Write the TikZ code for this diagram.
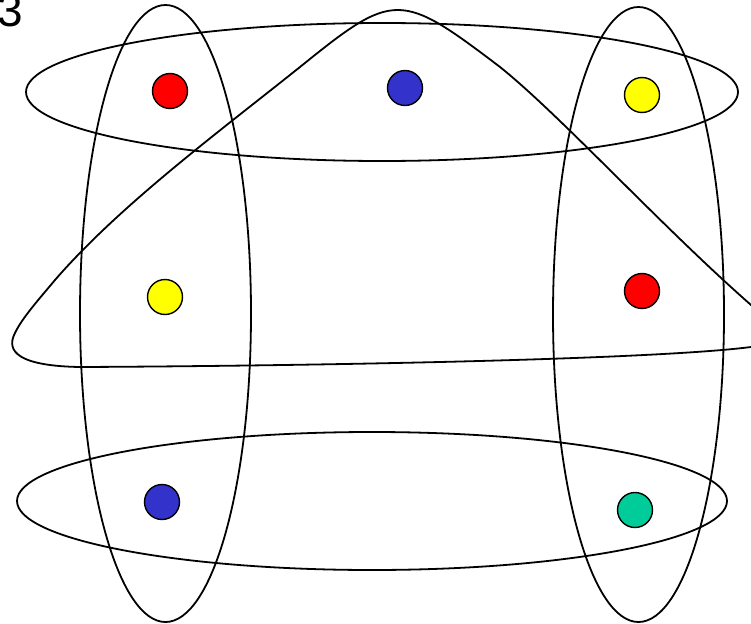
\documentclass[tikz,border=0pt]{standalone}
\usepackage{fontspec}
\setsansfont{Liberation Sans}
\usetikzlibrary{positioning}

\definecolor{dotred}{RGB}{255,0,0}
\definecolor{dotblue}{RGB}{51,51,204}
\definecolor{dotyellow}{RGB}{255,255,0}
\definecolor{dotgreen}{RGB}{0,204,153}

\begin{document}
\begin{tikzpicture}[
x=1pt, y=-1pt,
edge/.style={draw, line width=1.8pt},
vertex/.style={circle, draw, line width=1.4pt, minimum size=35pt, inner sep=0pt},
label/.style={font=\sffamily\fontsize{46}{46}\selectfont, inner sep=0pt}
]
\clip (0,0) rectangle (751,623);

% number
\node (num) [label, anchor=base west] at (-3,27) {3};

% vertices
\node (a1) [vertex, fill=dotred] at (170,91) {};
\node (a2) [vertex, fill=dotblue] at (405,88) {};
\node (a3) [vertex, fill=dotyellow] at (642,95) {};
\node (b1) [vertex, fill=dotyellow] at (165,297) {};
\node (b3) [vertex, fill=dotred] at (642,291) {};
\node (c1) [vertex, fill=dotblue] at (162,502) {};
\node (c3) [vertex, fill=dotgreen] at (635,510) {};

% hyperedges
\draw[edge] (382,92) ellipse [x radius=356, y radius=69];
\draw[edge] (372,501) ellipse [x radius=355, y radius=69];
\draw[edge] (165.5,313.5) ellipse [x radius=85.5, y radius=308.5];
\draw[edge] (638.5,314.5) ellipse [x radius=85.5, y radius=307.5];

% triangle edge
\draw[edge] (55,280) .. controls (120,205) and (220,131) .. (300,67)
  .. controls (394,-9) and (400,-9) .. (500,67)
  .. controls (560,115) and (660,225) .. (751,305)
  .. controls (790,340) and (790,345) .. (751,347)
  .. controls (650,360) and (300,366) .. (80,367)
  .. controls (20,366) and (5,352) .. (15,333)
  .. controls (22,318) and (40,298) .. (55,280);

\end{tikzpicture}
\end{document}
